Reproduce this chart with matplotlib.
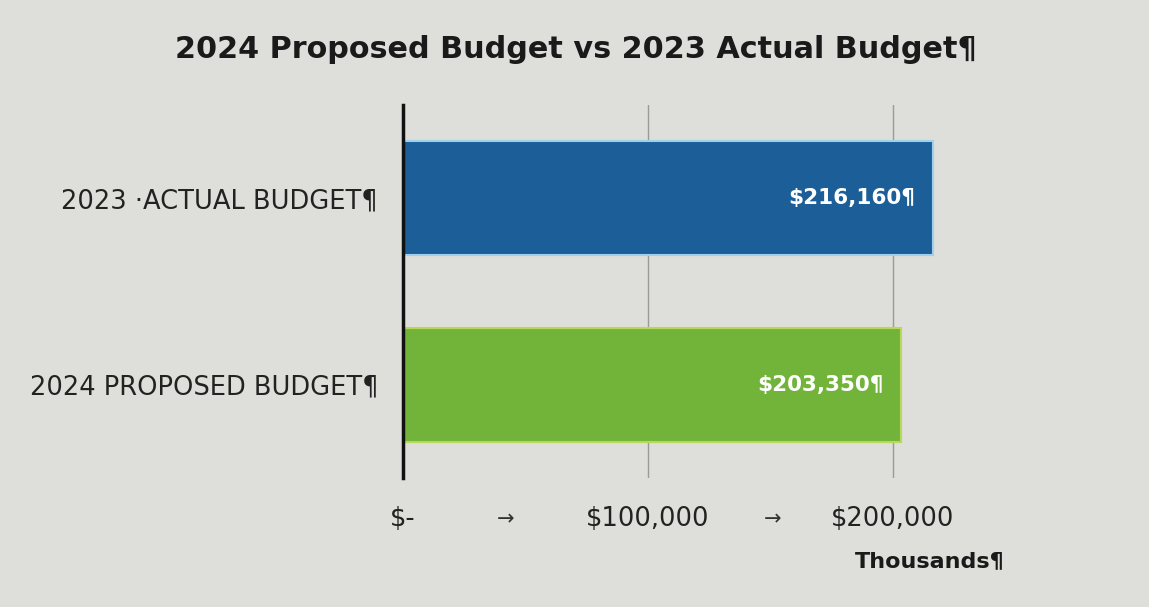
import matplotlib
matplotlib.use("Agg")
import matplotlib.pyplot as plt

categories = ["2024 PROPOSED BUDGET¶", "2023 ·ACTUAL BUDGET¶"]
values = [203350, 216160]
value_labels = ["$203,350¶", "$216,160¶"]
bar_colors = ["#72b43a", "#1c5e98"]
edge_colors = ["#b8d85a", "#9fd0ee"]
tick_values = [0, 100000, 200000]
tick_labels = ["$-", "$100,000", "$200,000"]
arrow_positions = [42000, 151000]

bg = "#dededa"
fig = plt.figure(figsize=(11.49, 6.07), dpi=100, facecolor=bg)
ax = fig.add_axes([403/1149, 1-478/607, 735/1149, 373/607])
ax.set_facecolor(bg)

ypos = list(range(len(categories)))
ax.barh(ypos, values, height=0.61, color=bar_colors, edgecolor=edge_colors, linewidth=1.5, zorder=3)

ax.set_xlim(0, 300000)
ax.set_ylim(-0.5, 1.5)
ax.set_xticks(tick_values)
ax.set_xticklabels(tick_labels, fontsize=18.5, color="#222222")
ax.tick_params(axis="x", length=0, pad=20)
ax.set_yticks(ypos)
ax.set_yticklabels(categories, fontsize=18.5, color="#222222")
ax.tick_params(axis="y", length=0, pad=18)

ax.grid(axis="x", color="#9a9a9a", linewidth=1, zorder=0)
for s in ["top", "right", "bottom"]:
    ax.spines[s].set_visible(False)
ax.spines["left"].set_linewidth(2.5)
ax.spines["left"].set_color("#111111")
ax.spines["left"].set_zorder(4)

for y, v, lab in zip(ypos, values, value_labels):
    ax.text(v - 7000, y, lab, ha="right", va="center", color="white",
            fontsize=15.5, fontweight="bold", zorder=5)

for a in arrow_positions:
    ax.text(a, -0.72, "→", ha="center", va="center",
            fontsize=15, color="#333333", clip_on=False)

fig.text(576/1149, 1-50/607, "2024 Proposed Budget vs 2023 Actual Budget¶",
         ha="center", va="center", fontsize=21.8, fontweight="bold", color="#1a1a1a")
fig.text(1005/1149, 1-561/607, "Thousands¶", ha="right", va="center",
         fontsize=16, fontweight="bold", color="#1a1a1a")

fig.savefig("out.png", dpi=100, facecolor=bg)
